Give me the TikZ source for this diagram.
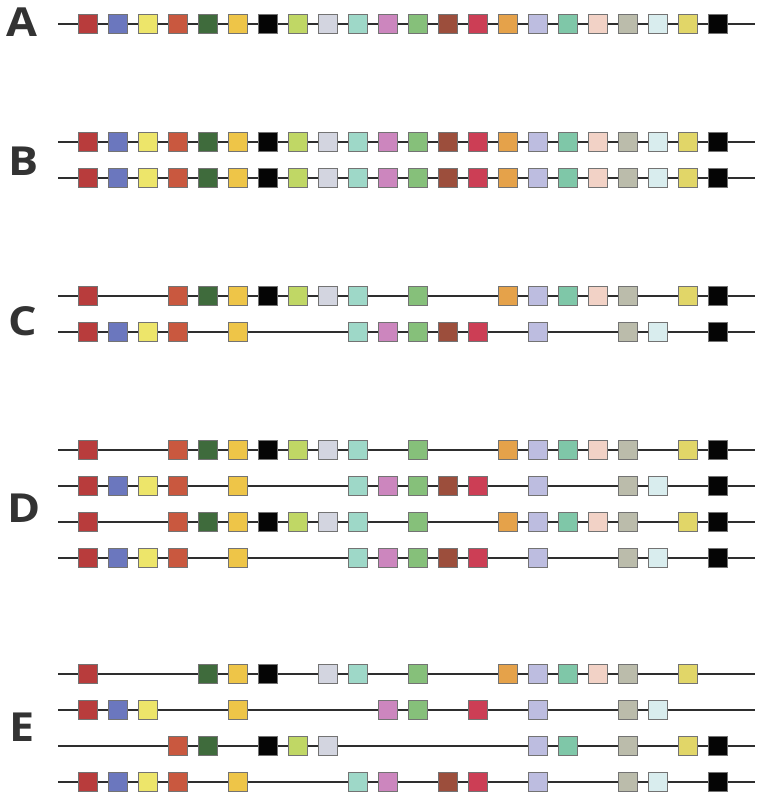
\documentclass[tikz,border=0pt]{standalone}
\usepackage{fontspec}
\setmainfont{Open Sans}
\definecolor{c0}{HTML}{B83C3C}
\definecolor{c1}{HTML}{6B77BE}
\definecolor{c2}{HTML}{EDE56A}
\definecolor{c3}{HTML}{C9583F}
\definecolor{c4}{HTML}{3F6B3C}
\definecolor{c5}{HTML}{EEC548}
\definecolor{c6}{HTML}{050505}
\definecolor{c7}{HTML}{C0D765}
\definecolor{c8}{HTML}{D3D5E0}
\definecolor{c9}{HTML}{9ED8C8}
\definecolor{c10}{HTML}{CC86BE}
\definecolor{c11}{HTML}{86C07A}
\definecolor{c12}{HTML}{9C4E3C}
\definecolor{c13}{HTML}{CC3E55}
\definecolor{c14}{HTML}{E5A24A}
\definecolor{c15}{HTML}{BDBDE0}
\definecolor{c16}{HTML}{7FC7A8}
\definecolor{c17}{HTML}{F2D2C6}
\definecolor{c18}{HTML}{BBBCAB}
\definecolor{c19}{HTML}{D9EDEE}
\definecolor{c20}{HTML}{E1D668}
\definecolor{c21}{HTML}{050505}
\definecolor{lblcol}{HTML}{333333}
\tikzset{
  sq/.style={draw=black!55, line width=0.8pt, minimum size=19pt, inner sep=0pt},
  chrom/.style={line width=1.8pt, draw=black!82},
  lab/.style={font=\bfseries\fontsize{40}{40}\selectfont, text=lblcol, inner sep=0pt, xscale=1.12}
}
\newcommand\chromrow[3]{%
  \coordinate (#2s) at (58,#1);
  \coordinate (#2e) at (755,#1);
  \draw[chrom] (#2s) -- (#2e);
  \foreach \i in {#3} {\node[sq, fill=c\i] (#2-\i) at ({87.5+30*\i},#1) {};}
}
\begin{document}
\begin{tikzpicture}[x=1pt,y=-1pt]
\useasboundingbox (0,0) rectangle (767,801);
\node[lab] (lA) at (22,22) {A};
\node[lab] (lB) at (24,161) {B};
\node[lab] (lC) at (23,321) {C};
\node[lab] (lD) at (24,508) {D};
\node[lab] (lE) at (22,727) {E};
\chromrow{24}{a}{0,1,2,3,4,5,6,7,8,9,10,11,12,13,14,15,16,17,18,19,20,21}
\chromrow{142}{b1}{0,1,2,3,4,5,6,7,8,9,10,11,12,13,14,15,16,17,18,19,20,21}
\chromrow{178}{b2}{0,1,2,3,4,5,6,7,8,9,10,11,12,13,14,15,16,17,18,19,20,21}
\chromrow{296}{c1}{0,3,4,5,6,7,8,9,11,14,15,16,17,18,20,21}
\chromrow{332}{c2}{0,1,2,3,5,9,10,11,12,13,15,18,19,21}
\chromrow{450}{d1}{0,3,4,5,6,7,8,9,11,14,15,16,17,18,20,21}
\chromrow{486}{d2}{0,1,2,3,5,9,10,11,12,13,15,18,19,21}
\chromrow{522}{d3}{0,3,4,5,6,7,8,9,11,14,15,16,17,18,20,21}
\chromrow{558}{d4}{0,1,2,3,5,9,10,11,12,13,15,18,19,21}
\chromrow{674}{e1}{0,4,5,6,8,9,11,14,15,16,17,18,20}
\chromrow{710}{e2}{0,1,2,5,10,11,13,15,18,19}
\chromrow{746}{e3}{3,4,6,7,8,15,16,18,20,21}
\chromrow{782}{e4}{0,1,2,3,5,9,10,12,13,15,18,19,21}
\end{tikzpicture}
\end{document}
